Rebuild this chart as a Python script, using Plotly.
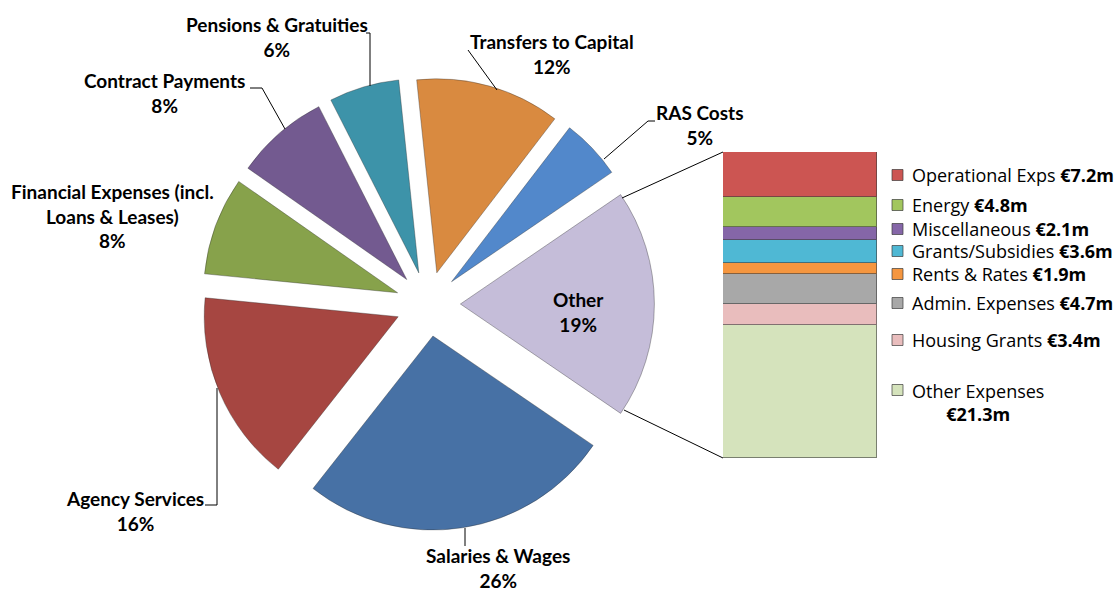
import plotly.graph_objects as go

# ---------------- data ----------------
pie_labels = ["Transfers to Capital", "RAS Costs", "Other", "Salaries & Wages",
              "Agency Services", "Financial Expenses (incl.<br>Loans & Leases)",
              "Contract Payments", "Pensions & Gratuities"]
bar_labels = ["Operational Exps", "Energy", "Miscellaneous", "Grants/Subsidies",
              "Rents & Rates", "Admin. Expenses", "Housing Grants", "Other Expenses"]
bar_values = [7.2, 4.8, 2.1, 3.6, 1.9, 4.7, 3.4, 21.3]          # €m
main_values = [31, 13, None, 67, 41, 21, 20, 15]                 # €m (Other = sum of bar)
other_total = round(sum(bar_values), 1)
pie_values = [other_total if v is None else v for v in main_values]

pie_colors = ["#D98A40", "#5288CB", "#C5BDD9", "#4771A5",
              "#A64641", "#87A24B", "#735A90", "#3D93A9"]
bar_colors = ["#CC5552", "#A2C65E", "#8566A8", "#4FB8D4",
              "#F5963F", "#A8A8A8", "#E9BDBD", "#D5E3BC"]

W, H = 1119, 591
def px(x, y):
    return x / W, 1 - y / H

total = sum(pie_values)
cx, cy, r = 428, 304, 194
pull = 0.167
half = r * (1 + pull)
start = 90 - (pie_values[0] + pie_values[1] + pie_values[2] / 2) / total * 360

fig = go.Figure()
fig.add_trace(go.Pie(
    labels=[l.replace("<br>", " ") for l in pie_labels], values=pie_values,
    sort=False, direction="clockwise", rotation=start,
    pull=[pull] * len(pie_values),
    marker=dict(colors=pie_colors, line=dict(color="rgba(40,40,40,0.35)", width=1)),
    textinfo="none", hoverinfo="label+percent", showlegend=False,
    domain=dict(x=[(cx - half) / W, (cx + half) / W],
                y=[1 - (cy + half) / H, 1 - (cy - half) / H]),
))

# stacked bar (bottom -> top)
bx0, bx1, by0, by1 = 723, 877, 152, 458
for name, val, col in reversed(list(zip(bar_labels, bar_values, bar_colors))):
    fig.add_trace(go.Bar(x=["Other"], y=[val], name=name, width=1,
                         marker=dict(color=col, line=dict(color="rgba(60,60,60,0.6)", width=1)),
                         showlegend=False, xaxis="x", yaxis="y"))

fig.update_layout(
    width=W, height=H, margin=dict(l=0, r=0, t=0, b=0),
    paper_bgcolor="white", plot_bgcolor="rgba(0,0,0,0)",
    barmode="stack", bargap=0,
    xaxis=dict(domain=[bx0 / W, bx1 / W], range=[-0.5, 0.5], visible=False, fixedrange=True),
    yaxis=dict(domain=[1 - by1 / H, 1 - by0 / H], range=[0, other_total], visible=False, fixedrange=True),
)

# pie labels
label_font = dict(family="Lato", size=19, color="black", weight=700)
label_pos = {  # centre of text block in pixels
    "Transfers to Capital": (552, 54),
    "RAS Costs": (700, 125),
    "Other": (578, 312),
    "Salaries & Wages": (498, 568),
    "Agency Services": (135, 511),
    "Financial Expenses (incl.<br>Loans & Leases)": (112, 216),
    "Contract Payments": (165, 93),
    "Pensions & Gratuities": (277, 37),
}
for lab, v in zip(pie_labels, pie_values):
    pct = round(v / total * 100)
    x, y = px(*label_pos[lab])
    fig.add_annotation(x=x, y=y, xref="paper", yref="paper", showarrow=False,
                       text=f"{lab}<br>{pct}%", font=label_font, align="center",
                       xanchor="center", yanchor="middle")

# leader lines
lines = [
    [(366, 33), (370, 33), (370, 86)],          # pensions
    [(250, 88), (262, 88), (285, 129)],         # contract
    [(468, 50), (497, 90)],                      # transfers
    [(655, 121), (648, 121), (604, 159)],       # RAS
    [(465, 528), (465, 546)],                    # salaries
    [(217, 388), (217, 505), (205, 505)],       # agency
    [(622, 198), (bx0, by0)],                    # other -> bar top
    [(624, 410), (bx0, by1)],                    # other -> bar bottom
]
for seg in lines:
    for (x0, y0), (x1, y1) in zip(seg[:-1], seg[1:]):
        a, b = px(x0, y0)
        c, d = px(x1, y1)
        fig.add_shape(type="line", xref="paper", yref="paper", x0=a, y0=b, x1=c, y1=d,
                      line=dict(color="black", width=1))

# legend for the bar
leg_y = [175, 205, 229, 251, 274, 303, 340, 390]
leg_font = dict(family="Open Sans", size=18, color="black")
for name, val, col, yy in zip(bar_labels, bar_values, bar_colors, leg_y):
    a, b = px(892, yy - 5.5)
    c, d = px(903, yy + 5.5)
    fig.add_shape(type="rect", xref="paper", yref="paper", x0=a, y0=b, x1=c, y1=d,
                  fillcolor=col, line=dict(color="rgba(60,60,60,0.7)", width=1))
    if name == "Other Expenses":
        x, y = px(978, yy + 12)
        fig.add_annotation(x=x, y=y, xref="paper", yref="paper", showarrow=False,
                           text=f"{name}<br><b>€{val:.1f}m</b>", font=leg_font,
                           align="center", xanchor="center", yanchor="middle")
    else:
        x, y = px(910, yy)
        fig.add_annotation(x=x, y=y, xref="paper", yref="paper", showarrow=False,
                           text=f"{name} <b>€{val:.1f}m</b>", font=leg_font,
                           align="left", xanchor="left", yanchor="middle")

fig.write_html("out.html", config={"displayModeBar": False},
               post_script="document.body.style.margin='0';document.body.style.overflow='hidden';")
